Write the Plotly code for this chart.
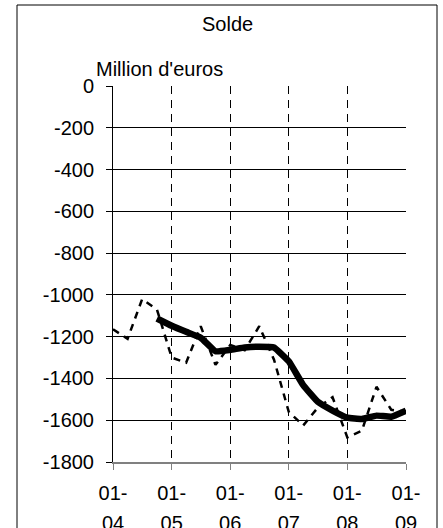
import plotly.graph_objects as go

quarters = ["2004-01-01", "2004-04-01", "2004-07-01", "2004-10-01",
            "2005-01-01", "2005-04-01", "2005-07-01", "2005-10-01",
            "2006-01-01", "2006-04-01", "2006-07-01", "2006-10-01",
            "2007-01-01", "2007-04-01", "2007-07-01", "2007-10-01",
            "2008-01-01", "2008-04-01", "2008-07-01", "2008-10-01",
            "2009-01-01"]
solde_trim = [-1165, -1210, -1020, -1070, -1300, -1325, -1150, -1335,
              -1240, -1265, -1150, -1310, -1560, -1625, -1540, -1490,
              -1682, -1650, -1440, -1550, -1560]
solde_mm = [None, None, None, -1113, -1148, -1177, -1205, -1270,
            -1263, -1252, -1248, -1252, -1318, -1432, -1512, -1554,
            -1588, -1594, -1578, -1583, -1554]
tick_vals = ["2004-01-01", "2005-01-01", "2006-01-01", "2007-01-01", "2008-01-01", "2009-01-01"]
tick_top = ["01-", "01-", "01-", "01-", "01-", "01-"]
tick_bottom = ["04", "05", "06", "07", "08", "09"]
y_ticks = [0, -200, -400, -600, -800, -1000, -1200, -1400, -1600, -1800]
y_ticktext = ["0", "-200", "-400", "-600", "-800", "-1000", "-1200", "-1400", "-1600", "-1800"]

FONT = "Liberation Sans, Arial, sans-serif"
FS = 20

fig = go.Figure()
fig.add_trace(go.Scatter(x=quarters, y=solde_trim, mode="lines",
                         line=dict(color="black", width=2.5, dash="7px,6px"),
                         showlegend=False))
fig.add_trace(go.Scatter(x=quarters, y=solde_mm, mode="lines",
                         line=dict(color="black", width=6.5, shape="spline", smoothing=0.3),
                         showlegend=False))

L, R, T, B = 113, 37, 86, 66
W, H = 443, 528
pw, ph = W - L - R, H - T - B

def px(x):
    return (x - L) / pw

def py(y):
    return (H - B - y) / ph

fig.update_layout(
    width=W, height=H,
    margin=dict(l=L, r=R, t=T, b=B, pad=0, autoexpand=False),
    paper_bgcolor="white", plot_bgcolor="white",
    font=dict(family=FONT, size=FS, color="black"),
    xaxis=dict(
        type="date", automargin=False,
        range=["2004-01-01", "2009-01-01"],
        tickvals=tick_vals, ticktext=tick_top,
        ticks="outside", ticklen=6, tickcolor="#808080", tickwidth=1,
        showgrid=True, gridcolor="black", gridwidth=1, griddash="8px,6px",
        showline=True, linecolor="#808080", linewidth=2,
        ticklabelstandoff=6,
        zeroline=False,
        tickfont=dict(size=FS),
    ),
    xaxis2=dict(
        type="date", automargin=False,
        overlaying="x", anchor="y", side="bottom",
        range=["2004-01-01", "2009-01-01"],
        tickvals=tick_vals, ticktext=tick_bottom,
        ticks="", showgrid=False, showline=False, zeroline=False,
        ticklabelstandoff=47,
        tickfont=dict(size=FS),
    ),
    yaxis=dict(
        range=[-1800, 0], automargin=False,
        tickvals=y_ticks, ticktext=y_ticktext,
        ticks="outside", ticklen=6, tickcolor="black", tickwidth=1,
        showgrid=True, gridcolor="black", gridwidth=1,
        showline=True, linecolor="black", linewidth=1,
        zeroline=False,
        ticklabelstandoff=8,
        tickfont=dict(size=FS),
    ),
    shapes=[dict(type="rect", xref="paper", yref="paper",
                 x0=px(17), x1=px(437), y0=py(540), y1=py(5),
                 line=dict(color="black", width=1))],
    annotations=[
        dict(text="Solde", xref="paper", yref="paper", x=px(227), y=py(24),
             showarrow=False, xanchor="center", yanchor="middle",
             font=dict(size=FS)),
        dict(text="Million d'euros", xref="paper", yref="paper", x=px(94), y=py(69),
             showarrow=False, xanchor="left", yanchor="middle",
             font=dict(size=FS)),
    ],
)
fig.add_trace(go.Scatter(x=tick_vals, y=[None] * len(tick_vals), xaxis="x2",
                         showlegend=False, hoverinfo="skip"))

fig.write_html("out.html", config={"displayModeBar": False},
               post_script="document.body.style.margin='0';document.body.style.overflow='hidden';")
